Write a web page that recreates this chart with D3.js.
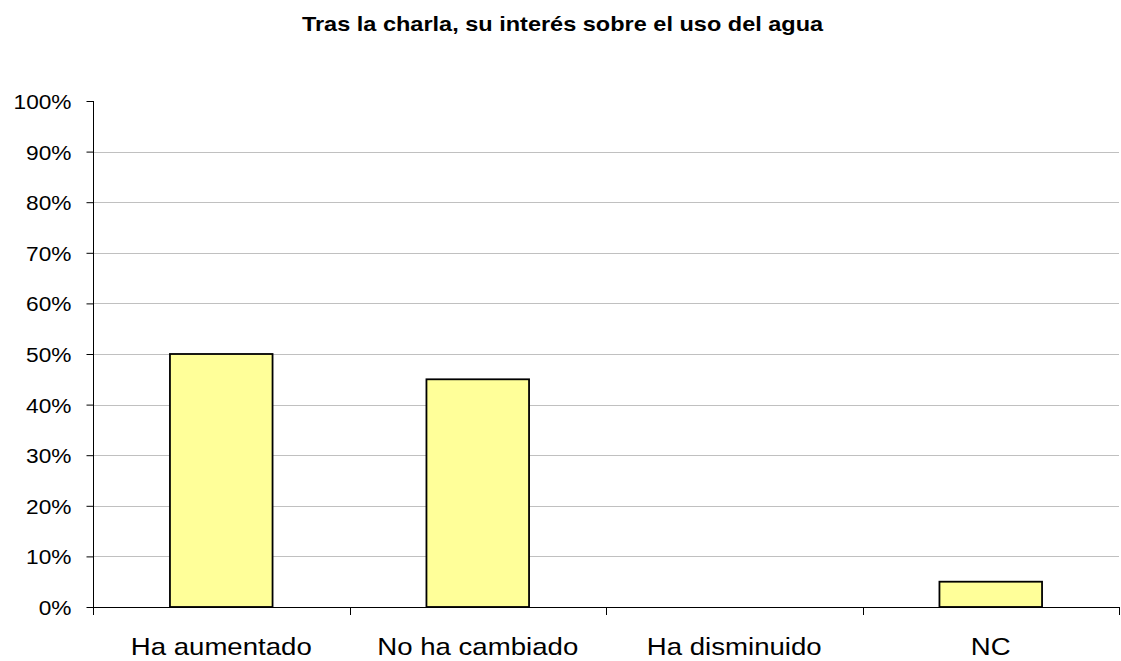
<!DOCTYPE html>
<html>
<head>
<meta charset="utf-8">
<script src="https://cdn.jsdelivr.net/npm/d3@7"></script>
<style>
  html, body { margin: 0; padding: 0; background: #fff; }
  svg { display: block; font-family: "Liberation Sans", Arial, sans-serif; }
</style>
</head>
<body>
<svg id="chart" width="1121" height="661"></svg>
<script>
// Chart data
const title = "Tras la charla, su interés sobre el uso del agua";
const categories = ["Ha aumentado", "No ha cambiado", "Ha disminuido", "NC"];
const values = [0.50, 0.45, 0.00, 0.05];
const yTicks = [0, 0.1, 0.2, 0.3, 0.4, 0.5, 0.6, 0.7, 0.8, 0.9, 1.0];

const svg = d3.select("#chart");
const margin = { left: 93, right: 2, top: 101, bottom: 54 };
const W = 1121, H = 661;

const x = d3.scaleBand()
  .domain(categories)
  .range([margin.left, W - margin.right])
  .paddingInner(0.6)
  .paddingOuter(0.3);

// Category slots (for tick marks between categories)
const slots = d3.scaleBand()
  .domain(categories)
  .range([margin.left, W - margin.right])
  .padding(0);

const y = d3.scaleLinear()
  .domain([0, 1])
  .range([H - margin.bottom, margin.top]);

// Gridlines (none on the baseline or the top edge)
svg.append("g")
  .selectAll("line")
  .data(yTicks.filter(d => d > 0 && d < 1))
  .join("line")
  .attr("x1", margin.left)
  .attr("x2", W - margin.right)
  .attr("y1", d => Math.round(y(d)) + 0.5)
  .attr("y2", d => Math.round(y(d)) + 0.5)
  .attr("stroke", "#c0c0c0")
  .attr("stroke-width", 1);

// Bars
svg.append("g")
  .selectAll("rect")
  .data(categories.map((c, i) => ({ c, v: values[i] })).filter(d => d.v > 0))
  .join("rect")
  .attr("x", d => x(d.c))
  .attr("width", x.bandwidth())
  .attr("y", d => y(d.v))
  .attr("height", d => y(0) - y(d.v))
  .attr("fill", "#FFFF99")
  .attr("stroke", "#000")
  .attr("stroke-width", 1.8);

// Y axis
const yAxis = d3.axisLeft(y)
  .tickValues(yTicks)
  .tickFormat(d3.format(".0%"))
  .tickSize(7)
  .tickPadding(0);

const gy = svg.append("g")
  .attr("transform", `translate(${margin.left + 0.5},0)`)
  .call(yAxis);
gy.select(".domain").attr("stroke", "#000").attr("d", `M0,${y(1)}V${y(0)}`);
gy.selectAll(".tick line").attr("stroke", "#000");
gy.selectAll(".tick text")
  .attr("x", 0)
  .attr("dy", "0.36em")
  .attr("transform", "translate(-22,0) scale(1.08,1)")
  .attr("fill", "#000")
  .style("font-size", "21px")
  .style("font-family", "'Liberation Sans', Arial, sans-serif");

// X axis baseline and category separators
const gx = svg.append("g");
gx.append("line")
  .attr("x1", margin.left)
  .attr("x2", W - margin.right)
  .attr("y1", y(0) + 0.5)
  .attr("y2", y(0) + 0.5)
  .attr("stroke", "#000");
const seps = categories.map(c => slots(c)).concat([slots(categories[categories.length - 1]) + slots.bandwidth()]);
gx.selectAll("line.sep")
  .data(seps)
  .join("line")
  .attr("class", "sep")
  .attr("x1", d => Math.round(d) + 0.5)
  .attr("x2", d => Math.round(d) + 0.5)
  .attr("y1", y(0))
  .attr("y2", y(0) + 8)
  .attr("stroke", "#000");

// Category labels
gx.selectAll("text")
  .data(categories)
  .join("text")
  .attr("transform", d => `translate(${slots(d) + slots.bandwidth() / 2},655) scale(1.15,1)`)
  .attr("text-anchor", "middle")
  .attr("fill", "#000")
  .style("font-size", "24px")
  .text(d => d);

// Title
svg.append("text")
  .attr("transform", `translate(562.5,31) scale(1.12,1)`)
  .attr("text-anchor", "middle")
  .attr("fill", "#000")
  .style("font-size", "21px")
  .style("font-weight", "bold")
  .text(title);
</script>
</body>
</html>
